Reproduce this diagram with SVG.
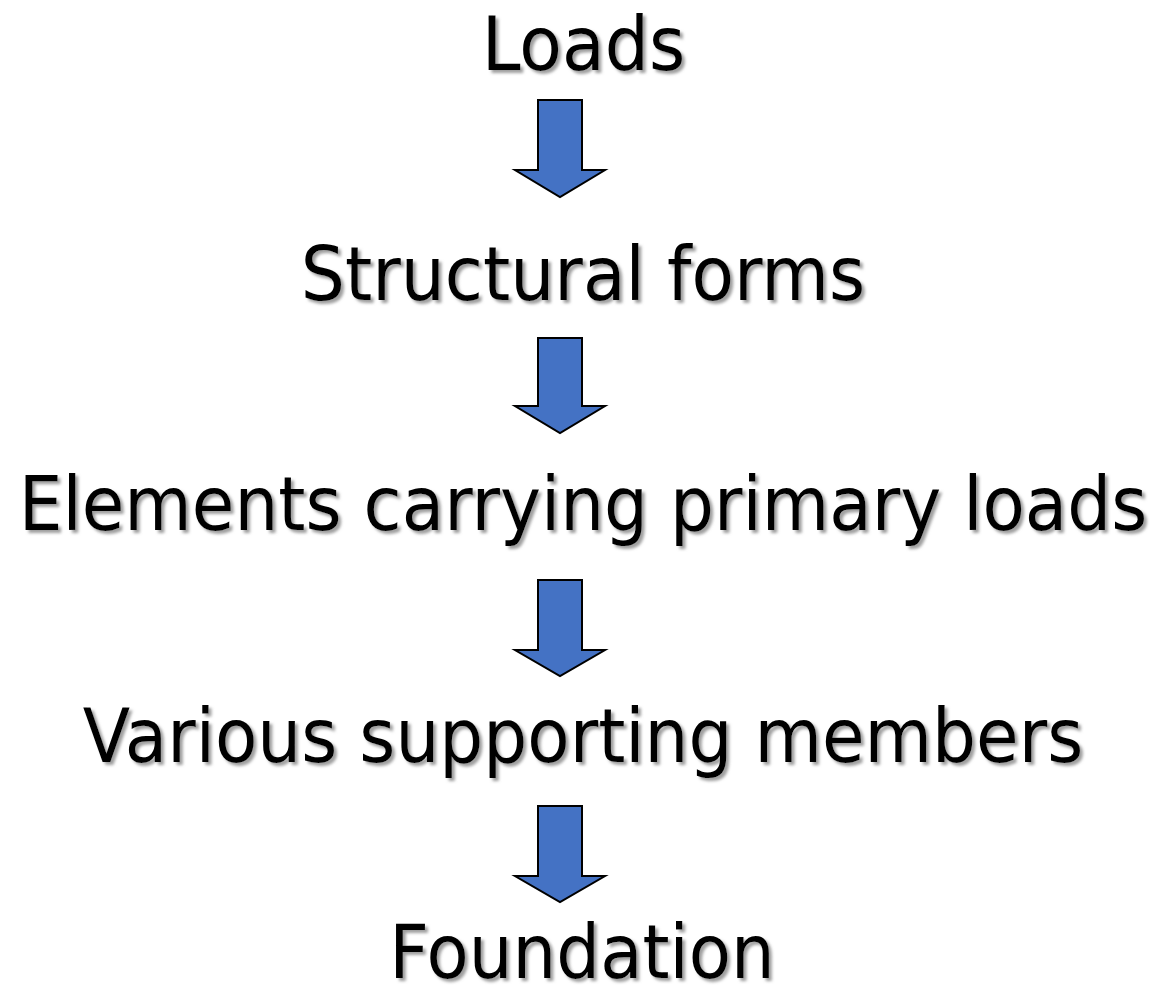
<svg xmlns="http://www.w3.org/2000/svg" width="1156" height="996" viewBox="0 0 1156 996">
  <defs>
    <filter id="shadow" filterUnits="userSpaceOnUse" x="0" y="0" width="1156" height="996">
      <feDropShadow dx="3" dy="3" stdDeviation="1.5" flood-color="#7f7f7f" flood-opacity="0.75"/>
    </filter>
  </defs>
  <style>
    .label { font-family: "DejaVu Sans", Verdana, sans-serif; font-size: 75px; fill: #000; text-anchor: middle; }
    .node { filter: url(#shadow); }
    .arrow { fill: #4472C4; stroke: #000; stroke-width: 2; stroke-linejoin: miter; }
  </style>
  <rect width="1156" height="996" fill="#fff"/>
  <g id="node-loads" class="node">
    <text class="label" transform="translate(583.5,70) scale(0.93,1)">Loads</text>
  </g>
  <g id="node-structural-forms" class="node">
    <text class="label" transform="translate(583,300) scale(0.927,1)">Structural forms</text>
  </g>
  <g id="node-elements" class="node">
    <text class="label" transform="translate(583,530) scale(0.924,1)">Elements carrying primary loads</text>
  </g>
  <g id="node-supporting" class="node">
    <text class="label" transform="translate(583,762) scale(0.924,1)">Various supporting members</text>
  </g>
  <g id="node-foundation" class="node">
    <text class="label" transform="translate(582,978) scale(0.921,1)">Foundation</text>
  </g>
  <g id="connectors">
    <polygon class="arrow" points="538,100 582,100 582,170 605,170 560,197 515,170 538,170"/>
    <polygon class="arrow" points="538,338 582,338 582,406 605,406 560,433 515,406 538,406"/>
    <polygon class="arrow" points="538,580 582,580 582,650 605,650 560,676 515,650 538,650"/>
    <polygon class="arrow" points="538,806 582,806 582,876 605,876 560,902 515,876 538,876"/>
  </g>
</svg>
